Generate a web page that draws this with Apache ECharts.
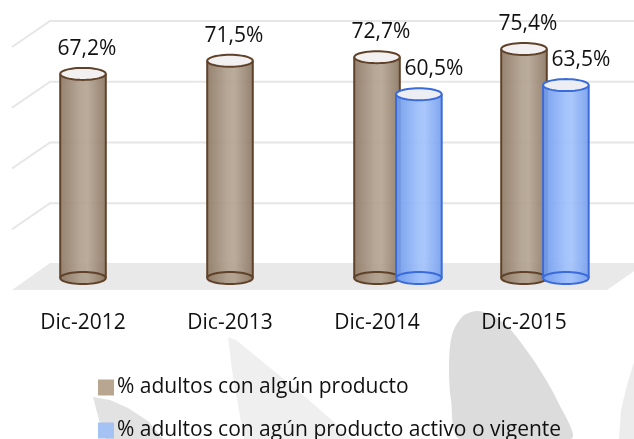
<!DOCTYPE html>
<html>
<head>
<meta charset="utf-8">
<script src="https://cdn.jsdelivr.net/npm/echarts@6/dist/echarts.min.js"></script>
<style>
html,body{margin:0;padding:0;background:#fff;}
#chart{width:634px;height:439px;}
</style>
</head>
<body>
<div id="chart"></div>
<script>
const categories = ['Dic-2012', 'Dic-2013', 'Dic-2014', 'Dic-2015'];
const seriesNames = ['% adultos con algún producto', '% adultos con agún producto activo o vigente'];
const adultsAnyProduct = [67.2, 71.5, 72.7, 75.4];
const adultsActiveProduct = [null, null, 60.5, 63.5];
const gridValues = [20, 40, 60, 80];
const yMax = 80;

const FONT = '"Open Sans", "Noto Sans", sans-serif';
const BROWN = {
  legend: '#b9a691',
  stroke: '#5f4229',
  top: '#f2f0f0',
  stops: [[0, '#8e7965'], [0.45, '#b0a08e'], [0.6, '#b4a492'], [1, '#8c7864']]
};
const BLUE = {
  legend: '#a4c2f4',
  stroke: '#3a6bd9',
  top: '#eceef4',
  stops: [[0, '#6e99ec'], [0.5, '#9dbffb'], [0.62, '#a2c2fb'], [1, '#779fee']]
};

function grad(stops) {
  return { type: 'linear', x: 0, y: 0, x2: 1, y2: 0,
    colorStops: stops.map(s => ({ offset: s[0], color: s[1] })) };
}
function fmt(v) { return v.toFixed(1).replace('.', ',') + '%'; }

function toData(arr) {
  const out = [];
  arr.forEach((v, i) => { if (v !== null && v !== undefined) out.push([i, v]); });
  return out;
}
function ellipsePts(cx, cy, rx, ry) {
  const pts = [];
  for (let i = 0; i < 48; i++) {
    const a = i / 48 * Math.PI * 2;
    pts.push([cx + rx * Math.cos(a), cy + ry * Math.sin(a)]);
  }
  return pts;
}

function cylinder(pal, dxFrac, labelDx) {
  return function (params, api) {
    const cat = api.value(0), v = api.value(1);
    const top = api.coord([cat, v]);
    const bot = api.coord([cat, 0]);
    const band = api.size([1, 0])[0];
    const w = band * 0.31;
    const rx = w / 2, ry = 6;
    const cx = top[0] + band * dxFrac;
    const g = grad(pal.stops);
    return {
      type: 'group',
      children: [
        { type: 'rect', shape: { x: cx - rx, y: top[1], width: w, height: bot[1] - top[1] },
          style: { fill: g, opacity: 0.92 } },
        { type: 'polygon', shape: { points: ellipsePts(cx, bot[1], rx, ry) },
          style: { fill: g, stroke: pal.stroke, lineWidth: 2 } },
        { type: 'line', shape: { x1: cx - rx, y1: top[1], x2: cx - rx, y2: bot[1] },
          style: { stroke: pal.stroke, lineWidth: 2 } },
        { type: 'line', shape: { x1: cx + rx, y1: top[1], x2: cx + rx, y2: bot[1] },
          style: { stroke: pal.stroke, lineWidth: 2 } },
        { type: 'polygon', shape: { points: ellipsePts(cx, top[1], rx, ry) },
          style: { fill: pal.top, stroke: pal.stroke, lineWidth: 2 } },
        { type: 'text', style: { text: fmt(v), x: cx + labelDx, y: top[1] - 25,
            align: 'center', verticalAlign: 'middle', fontSize: 21, fontFamily: FONT, fill: '#111111' } }
      ]
    };
  };
}

const chart = echarts.init(document.getElementById('chart'), null, { renderer: 'canvas' });

const legendBase = {
  left: 93,
  itemWidth: 16,
  itemHeight: 16,
  icon: 'rect',
  selectedMode: false,
  textStyle: { fontSize: 21, fontFamily: FONT, color: '#111111', padding: [0, 0, 0, -2] }
};

const option = {
  backgroundColor: '#ffffff',
  animation: false,
  graphic: [
    { type: 'polygon', z: 0, shape: { smooth: 0.3, points: [[460,439],[451,400],[449,365],[452,335],[462,317],[476,311],[492,315],[507,326],[522,344],[540,370],[558,402],[571,439]] }, style: { fill: '#dcdcdc' } },
    { type: 'polygon', z: 0, shape: { points: [[228,337],[236,340],[252,353],[280,376],[310,401],[335,423],[352,439],[244,439],[238,405],[232,370]] }, style: { fill: '#efefef' } },
    { type: 'polygon', z: 0, shape: { points: [[93,397],[110,400],[128,408],[148,421],[163,439],[106,439],[99,420]] }, style: { fill: '#e2e2e2' } },
    { type: 'polygon', z: 0, shape: { points: [[634,362],[627,385],[621,410],[619,439],[634,439]] }, style: { fill: '#ececec' } }
  ],
  grid: { left: 9.5, right: 36.5, top: 35, bottom: 161, containLabel: false },
  xAxis: {
    type: 'category',
    data: categories,
    axisLine: { show: false },
    axisTick: { show: false },
    splitLine: { show: false },
    axisLabel: { fontSize: 21, fontFamily: FONT, color: '#111111', margin: 35 }
  },
  yAxis: {
    type: 'value', min: 0, max: yMax, show: false, splitLine: { show: false }
  },
  legend: [
    Object.assign({}, legendBase, { top: 372, data: [seriesNames[0]] }),
    Object.assign({}, legendBase, { top: 415, data: [seriesNames[1]] })
  ],
  series: [
    {
      type: 'custom',
      name: 'floor',
      silent: true,
      data: [[0, 0]],
      renderItem: function (params, api) {
        const p = api.coord([0, 0]);
        const x0 = params.coordSys.x;
        const W = api.getWidth();
        return {
          type: 'polygon',
          shape: { points: [[x0 + 2.5, p[1] + 12], [x0 + 40.5, p[1] - 15], [W + 12, p[1] - 15], [W - 27, p[1] + 12]] },
          style: { fill: '#e9e9e9' }
        };
      }
    },
    {
      type: 'custom',
      name: 'grid',
      silent: true,
      data: gridValues.map(v => [0, v]),
      renderItem: function (params, api) {
        const y = api.coord([0, api.value(1)])[1];
        const x0 = params.coordSys.x;
        const W = api.getWidth();
        return {
          type: 'polyline',
          shape: { points: [[x0 + 2.5, y + 12], [x0 + 40.5, y - 14], [W, y - 14]] },
          style: { stroke: '#e6e6e6', lineWidth: 2, fill: null }
        };
      }
    },
    {
      type: 'custom',
      name: seriesNames[0],
      itemStyle: { color: BROWN.legend },
      data: toData(adultsAnyProduct),
      renderItem: cylinder(BROWN, 0, 4)
    },
    {
      type: 'custom',
      name: seriesNames[1],
      itemStyle: { color: BLUE.legend },
      data: toData(adultsActiveProduct),
      renderItem: cylinder(BLUE, 0.285, 15)
    }
  ]
};
chart.setOption(option);
</script>
</body>
</html>
